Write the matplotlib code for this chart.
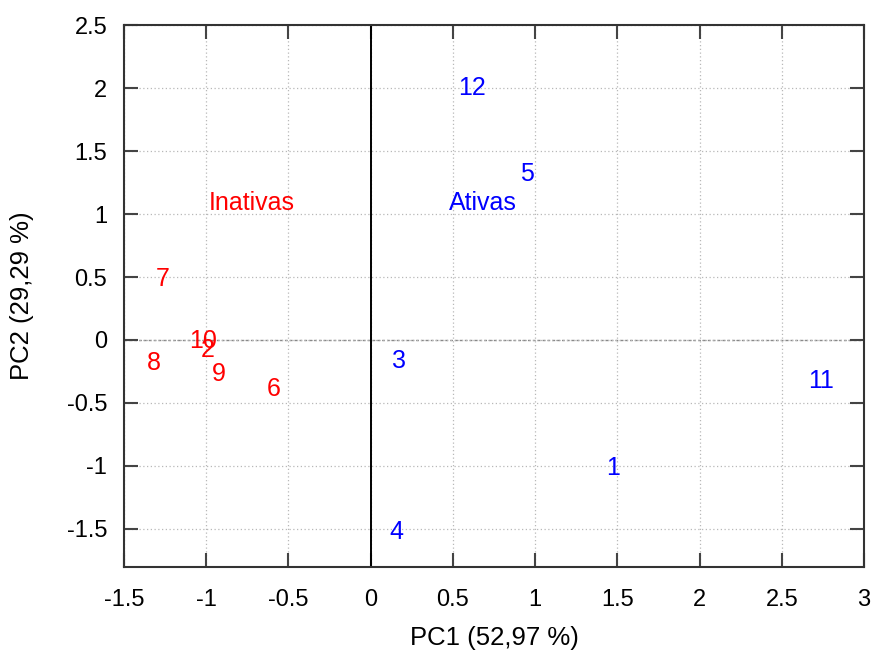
import matplotlib
matplotlib.use("Agg")
import matplotlib.pyplot as plt

plt.rcParams['font.family'] = ['Liberation Sans', 'DejaVu Sans']

# PCA scores (PC1, PC2) for each compound
ativas_ids = ["12", "5", "3", "4", "1", "11"]
ativas_pc1 = [0.617, 0.951, 0.173, 0.155, 1.474, 2.740]
ativas_pc2 = [2.000, 1.317, -0.164, -1.524, -1.015, -0.323]

inativas_ids = ["7", "10", "2", "8", "9", "6"]
inativas_pc1 = [-1.263, -1.019, -0.989, -1.318, -0.922, -0.588]
inativas_pc2 = [0.488, -0.005, -0.076, -0.180, -0.267, -0.387]

group_names = ["Ativas", "Inativas"]
group_pos_pc1 = [0.684, -0.723]
group_pos_pc2 = [1.091, 1.091]
group_colors = ["#0000ff", "#ff0000"]

xticks = [-1.5, -1, -0.5, 0, 0.5, 1, 1.5, 2, 2.5, 3]
yticks = [-1.5, -1, -0.5, 0, 0.5, 1, 1.5, 2, 2.5]

fig = plt.figure(figsize=(8.77, 6.55), dpi=100)
ax = fig.add_axes([0.1414, 0.1344, 0.8438, 0.827])

ax.set_xlim(-1.5, 3)
ax.set_ylim(-1.803, 2.5)
ax.set_xticks(xticks)
ax.set_yticks(yticks)
ax.set_xticklabels([f"{t:g}" for t in xticks])
ax.set_yticklabels([f"{t:g}" for t in yticks])

ax.grid(True, color="#b8b8b8", linestyle=(0, (1, 2)), linewidth=0.9)
ax.axhline(0, color="#888888", linestyle=(0, (2, 1.5)), linewidth=1.0, zorder=1)
ax.axvline(0, color="black", linewidth=1.4, zorder=2)

for s in ax.spines.values():
    s.set_color("#333333")
    s.set_linewidth(1.5)

ax.tick_params(direction="in", length=10, width=1.5, color="#444444",
               top=True, right=True, labelsize=17)
ax.tick_params(axis="x", pad=16)
ax.tick_params(axis="y", pad=12)

for lbl, x, y in zip(ativas_ids, ativas_pc1, ativas_pc2):
    ax.text(x, y, lbl, color=group_colors[0], fontsize=18,
            ha="center", va="center", zorder=3)
for lbl, x, y in zip(inativas_ids, inativas_pc1, inativas_pc2):
    ax.text(x, y, lbl, color=group_colors[1], fontsize=18,
            ha="center", va="center", zorder=3)
for name, x, y, c in zip(group_names, group_pos_pc1, group_pos_pc2, group_colors):
    ax.text(x, y, name, color=c, fontsize=18, ha="center", va="center", zorder=3)

ax.set_xlabel("PC1 (52,97 %)", fontsize=18.5, labelpad=11)
ax.set_ylabel("PC2 (29,29 %)", fontsize=18.5, labelpad=24)

fig.savefig("out.png", dpi=100)
